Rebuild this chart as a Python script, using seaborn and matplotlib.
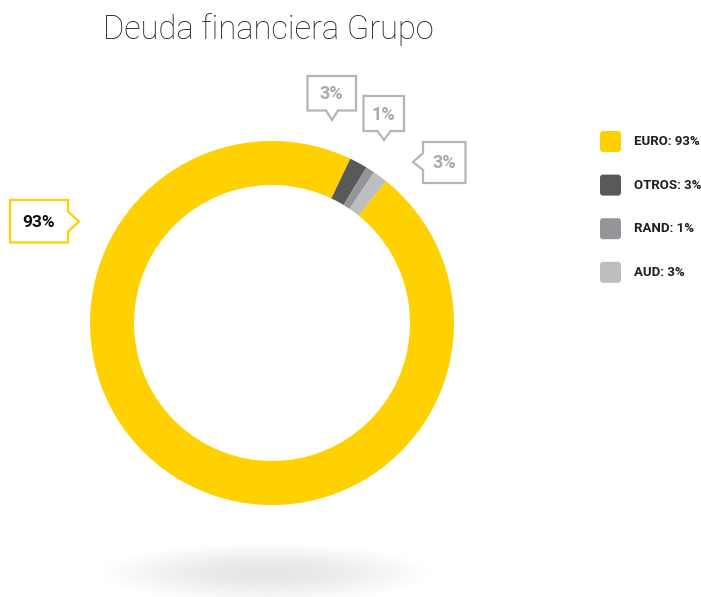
import numpy as np
import matplotlib
matplotlib.use("Agg")
import matplotlib.pyplot as plt
from matplotlib.patches import Polygon, FancyBboxPatch
import seaborn as sns

# data
categories = ["EURO", "OTROS", "RAND", "AUD"]
label_pct = ["93%", "3%", "1%", "3%"]
drawn_share = [96.3, 1.6, 0.8, 1.3]
colors = ["#FFD100", "#58595B", "#939598", "#BCBEC0"]

sns.set_theme(style="white")
plt.rcParams["font.family"] = ["Roboto", "DejaVu Sans"]

fig = plt.figure(figsize=(7.01, 5.97), dpi=100)
ax = fig.add_axes([0, 0, 1, 1])

# donut (y axis is inverted below, so counterclock=True runs clockwise on screen)
ax.pie(drawn_share, colors=colors, center=(272, 323), radius=182,
       startangle=-51.2, counterclock=True,
       wedgeprops=dict(width=44, edgecolor="none", linewidth=0))

ax.set_xlim(0, 701)
ax.set_ylim(597, 0)
ax.set_aspect("equal")
ax.axis("off")

# soft shadow under the ring
xx, yy = np.meshgrid(np.linspace(-1, 1, 400), np.linspace(-1, 1, 80))
r2 = xx ** 2 + yy ** 2
shade = np.zeros((80, 400, 4))
shade[..., 0] = 0.66
shade[..., 1] = 0.68
shade[..., 2] = 0.70
shade[..., 3] = np.clip(1 - r2, 0, 1) ** 1.4 * 0.30
ax.imshow(shade, extent=(95, 437, 604, 542), interpolation="bilinear", zorder=0)
ax.set_xlim(0, 701)
ax.set_ylim(597, 0)

ax.text(268, 30, "Deuda financiera Grupo", ha="center", va="center",
        fontsize=23.5, fontweight="light", color="#231F20")


def callout(x0, x1, y0, y1, side, a, b, tip, edge, txt, tcol, fs):
    if side == "bottom":
        pts = [(x0, y0), (x1, y0), (x1, y1), (b, y1), tip, (a, y1), (x0, y1)]
    elif side == "left":
        pts = [(x0, y0), (x1, y0), (x1, y1), (x0, y1), (x0, b), tip, (x0, a)]
    else:
        pts = [(x0, y0), (x1, y0), (x1, a), tip, (x1, b), (x1, y1), (x0, y1)]
    ax.add_patch(Polygon(pts, closed=True, facecolor="white", edgecolor=edge,
                         linewidth=1.6, zorder=5))
    ax.text((x0 + x1) / 2, (y0 + y1) / 2 + 1, txt, ha="center", va="center",
            fontsize=fs, fontweight="bold", color=tcol, zorder=6)


grey = "#B3B5B8"
callout(10, 68, 200, 242.5, "right", 211.5, 231.5, (79, 221.5), "#FFD100",
        label_pct[0], "#111111", 12.5)
callout(307.5, 356, 76, 110.5, "bottom", 326, 338, (332, 120), grey,
        label_pct[1], "#A7A9AC", 13)
callout(363.5, 404, 96, 131, "bottom", 377.5, 390.5, (384, 140), grey,
        label_pct[2], "#A7A9AC", 13)
callout(423, 465.5, 142, 183, "left", 153, 170, (413, 162), grey,
        label_pct[3], "#A7A9AC", 13)

# legend
for i, (cat, pct, col) in enumerate(zip(categories, label_pct, colors)):
    yc = 141 + i * 43.6
    ax.add_patch(FancyBboxPatch((600, yc - 10), 21, 21,
                                boxstyle="round,pad=0,rounding_size=3",
                                facecolor=col, edgecolor="none"))
    ax.text(634, yc + 0.5, f"{cat}: {pct}", ha="left", va="center",
            fontsize=9.5, fontweight="bold", color="#231F20")

fig.savefig("out.png", dpi=100)
